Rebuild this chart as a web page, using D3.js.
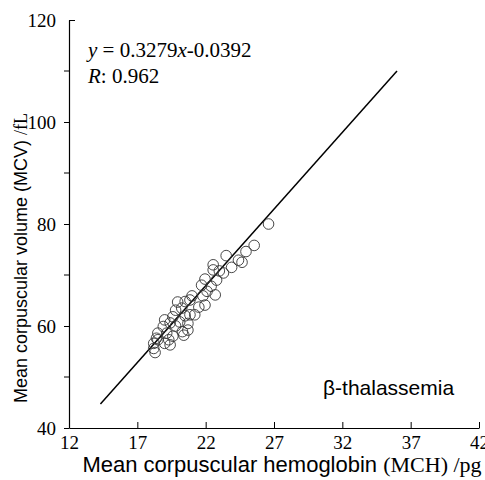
<!DOCTYPE html>
<html>
<head>
<meta charset="utf-8">
<script src="https://cdn.jsdelivr.net/npm/d3@7"></script>
<style>
  body { margin: 0; background: #fff; }
  svg { display: block; }
</style>
</head>
<body>
<div id="chart"></div>
<script>
// MCH (pg) vs MCV (fL), beta-thalassemia samples
let mch = [26.6, 25.55, 24.95, 24.66, 24.4, 23.5, 22.55, 22.55, 23.9, 23.3,
           22.8, 21.95, 21.7, 22.4, 22.7, 21.8, 21.5, 20.85, 20.5, 20.25,
           20.85, 19.6, 20.1, 20.7, 19.4, 20.3, 18.9, 19.15, 19.6, 18.5,
           18.4, 19.3, 19.0, 18.2, 18.2, 18.3, 19.0, 18.5, 19.8, 20.5,
           21.2, 21.95, 19.95, 21.0, 20.7, 19.4, 20.4, 23.0, 22.1, 19.8];
let mcv = [80.0, 75.8, 74.6, 72.5, 72.9, 73.8, 72.0, 71.0, 71.5, 70.4,
           69.0, 69.2, 68.0, 67.8, 66.1, 65.9, 63.7, 65.1, 64.8, 63.5,
           62.2, 61.8, 60.8, 60.5, 60.6, 58.9, 59.9, 58.6, 58.0, 58.6,
           57.6, 57.3, 56.6, 56.6, 55.6, 54.8, 61.2, 57.3, 63.1, 62.0,
           62.2, 64.1, 64.7, 65.9, 59.2, 56.3, 58.2, 70.8, 66.8, 60.0];

let fitX = [14.3, 36];
let fitY = [44.7, 110];

let xTicks = [12, 17, 22, 27, 32, 37, 42];
let yTicks = [40, 60, 80, 100, 120];
let yMinor = [50, 70, 90, 110];

let width = 485;
let height = 480;
let plotLeft = 69;
let plotRight = 479;
let plotTop = 20;
let plotBottom = 428;

let svg = d3.select("#chart")
    .append("svg")
    .attr("width", width)
    .attr("height", height);

let x = d3.scaleLinear().domain([12, 42]).range([plotLeft, plotRight]);
let y = d3.scaleLinear().domain([40, 120]).range([plotBottom, plotTop]);

let serif = "'Liberation Serif', 'Times New Roman', serif";
let sans = "'Liberation Sans', Arial, sans-serif";

// x axis, ticks point inward
let gx = svg.append("g")
    .attr("transform", `translate(0, ${plotBottom})`)
    .call(d3.axisBottom(x).tickValues(xTicks).tickSizeInner(-6).tickSizeOuter(0).tickPadding(8));
gx.selectAll("text")
    .style("font-family", serif)
    .style("font-size", "19px")
    .attr("fill", "#000");

// y axis, ticks outward
let gy = svg.append("g")
    .attr("transform", `translate(${plotLeft}, 0)`)
    .call(d3.axisLeft(y).tickValues(yTicks).tickSizeInner(5).tickSizeOuter(0).tickPadding(8));
gy.selectAll("text")
    .style("font-family", serif)
    .style("font-size", "19px")
    .attr("fill", "#000");
gy.selectAll(".tick").filter(d => d == 120).select("line")
    .attr("x2", 6);

svg.append("g")
    .selectAll("line")
    .data(yMinor)
    .enter().append("line")
    .attr("x1", plotLeft - 5)
    .attr("x2", plotLeft)
    .attr("y1", d => y(d))
    .attr("y2", d => y(d))
    .attr("stroke", "#000");

svg.selectAll(".domain").attr("stroke", "#000").attr("stroke-width", 1.2);
svg.selectAll(".tick line").attr("stroke", "#000");

// regression line
svg.append("line")
    .attr("x1", x(fitX[0]))
    .attr("y1", y(fitY[0]))
    .attr("x2", x(fitX[1]))
    .attr("y2", y(fitY[1]))
    .attr("stroke", "#000")
    .attr("stroke-width", 1.5);

// points
svg.append("g")
    .selectAll("circle")
    .data(mch)
    .enter().append("circle")
    .attr("cx", d => x(d))
    .attr("cy", (d, i) => y(mcv[i]))
    .attr("r", 5.3)
    .attr("fill", "none")
    .attr("stroke", "#333")
    .attr("stroke-width", 0.9);

// equation
let eq = svg.append("text")
    .attr("x", 88)
    .attr("y", 57)
    .style("font-family", serif)
    .style("font-size", "21px");
eq.append("tspan").style("font-style", "italic").text("y");
eq.append("tspan").text(" = 0.3279");
eq.append("tspan").style("font-style", "italic").text("x");
eq.append("tspan").text("-0.0392");

let rr = svg.append("text")
    .attr("x", 88)
    .attr("y", 83)
    .style("font-family", serif)
    .style("font-size", "21px");
rr.append("tspan").style("font-style", "italic").text("R");
rr.append("tspan").text(": 0.962");

svg.append("text")
    .attr("x", 323)
    .attr("y", 395)
    .style("font-family", sans)
    .style("font-size", "21px")
    .text("β-thalassemia");

// axis titles
let xt = svg.append("text")
    .attr("x", 282)
    .attr("y", 472)
    .attr("text-anchor", "middle")
    .style("font-size", "22px");
xt.append("tspan").style("font-family", sans).text("Mean corpuscular hemoglobin ");
xt.append("tspan").style("font-family", serif).text("(MCH) /pg");

let yt = svg.append("text")
    .attr("transform", "translate(27, 258) rotate(-90)")
    .attr("text-anchor", "middle")
    .style("font-size", "18px");
yt.append("tspan").style("font-family", sans).text("Mean corpuscular volume (MCV) ");
yt.append("tspan").style("font-family", serif).text("/fL");
</script>
</body>
</html>
